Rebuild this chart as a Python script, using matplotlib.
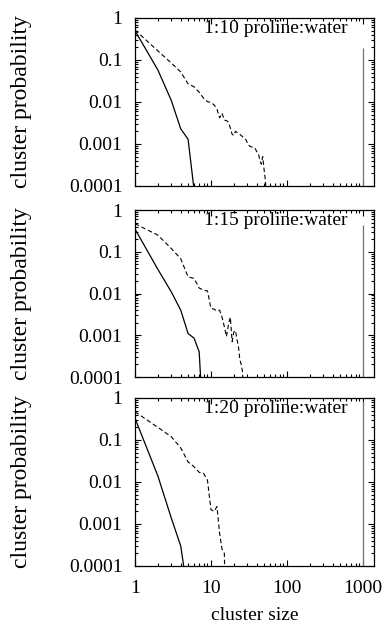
import numpy as np
import matplotlib
matplotlib.use("Agg")
import matplotlib.pyplot as plt

plt.rcParams['font.family'] = ['Liberation Serif', 'DejaVu Serif']
plt.rcParams['font.size'] = 14

# cluster size / probability
solid_10_x = [1, 2, 3, 4, 5, 6, 7]
solid_10_y = [0.5, 0.058, 0.011, 0.0023, 0.0013, 8e-5, 1e-7]
dash_10_x = [1, 2, 3, 4, 5, 6, 7, 8, 9, 10, 11, 12, 13, 14, 15, 16, 17, 18, 19, 20,
             21, 22, 24, 25, 27, 29, 31, 33, 36, 38, 40, 42, 44, 46, 48, 50, 52, 54]
dash_10_y = [0.52, 0.165, 0.085, 0.052, 0.027, 0.023, 0.017, 0.0123, 0.0102, 0.0098,
             0.0085, 0.0068, 0.0042, 0.0054, 0.0037, 0.0036, 0.0033, 0.0024, 0.0017, 0.0016,
             0.002, 0.0019, 0.0017, 0.0016, 0.0014, 0.00125, 0.00095, 0.00087, 0.00082, 0.0008,
             0.00066, 0.0006, 0.00042, 0.00033, 0.0005, 0.00025, 0.00014, 0.00005]

solid_15_x = [1, 2, 3, 4, 5, 6, 7, 8]
solid_15_y = [0.35, 0.038, 0.011, 0.004, 0.0011, 0.00085, 0.0004, 5e-6]
dash_15_x = [1, 2, 3, 4, 5, 6, 7, 8, 9, 10, 11, 12, 13, 14, 15, 16, 17, 18, 19, 20,
             21, 22, 23, 24, 25, 26, 27]
dash_15_y = [0.47, 0.25, 0.12, 0.068, 0.025, 0.023, 0.0135, 0.012, 0.0115, 0.0044,
             0.0042, 0.0038, 0.004, 0.0027, 0.0016, 0.00093, 0.0018, 0.0027, 0.0007, 0.0012,
             0.0013, 0.0008, 0.00054, 0.00026, 0.0002, 0.000135, 0.00003]

solid_20_x = [1, 2, 3, 4, 5]
solid_20_y = [0.33, 0.014, 0.0014, 0.0003, 2e-5]
dash_20_x = [1, 2, 3, 4, 5, 6, 7, 8, 9, 10, 11, 12, 13, 14, 15, 16]
dash_20_y = [0.47, 0.2, 0.12, 0.065, 0.03, 0.023, 0.017, 0.016, 0.011, 0.0022,
             0.002, 0.0026, 0.0006, 0.00025, 0.0002, 1e-6]

# spike at the largest cluster size
spike_x = 1000
spike_y = [0.19, 0.44, 0.85]

titles = ["1:10 proline:water", "1:15 proline:water", "1:20 proline:water"]
ytick_vals = [1e-4, 1e-3, 1e-2, 1e-1, 1]
ytick_labels = ["0.0001", "0.001", "0.01", "0.1", "1"]
xtick_vals = [1, 10, 100, 1000]
xtick_labels = ["1", "10", "100", "1000"]

panels = [(solid_10_x, solid_10_y, dash_10_x, dash_10_y),
          (solid_15_x, solid_15_y, dash_15_x, dash_15_y),
          (solid_20_x, solid_20_y, dash_20_x, dash_20_y)]

fig = plt.figure(figsize=(3.85, 6.25), dpi=100)
# axes boxes in figure fraction: left, bottom, width, height
boxes = [[0.3506, 0.7024, 0.6208, 0.2688],
         [0.3506, 0.3968, 0.6208, 0.2672],
         [0.3506, 0.0944, 0.6208, 0.2688]]

for i, (sx, sy, dx, dy) in enumerate(panels):
    ax = fig.add_axes(boxes[i])
    ax.set_xscale('log')
    ax.set_yscale('log')
    ax.plot(sx, sy, color='black', lw=0.9)
    ax.plot(dx, dy, color='black', lw=0.8, linestyle=(0, (4, 2.5)))
    ax.vlines(spike_x, 1e-4, spike_y[i], color='0.45', lw=0.9)
    ax.set_xlim(1, 1400)
    ax.set_ylim(1e-4, 1)
    ax.set_yticks(ytick_vals)
    ax.set_yticklabels(ytick_labels)
    ax.set_xticks(xtick_vals)
    if i == 2:
        ax.set_xticklabels(xtick_labels)
        ax.set_xlabel("cluster size")
        ax.xaxis.set_label_coords(0.5, -0.245)
    else:
        ax.set_xticklabels([])
    ax.tick_params(which='both', direction='in', top=True, right=True, width=0.8)
    ax.tick_params(which='major', length=4.5)
    ax.tick_params(which='minor', length=2.2)
    ax.tick_params(axis='y', which='major', pad=9)
    ax.tick_params(axis='x', which='major', pad=10)
    for sp in ax.spines.values():
        sp.set_linewidth(0.9)
    ax.set_ylabel("cluster probability", fontsize=17)
    ax.yaxis.set_label_coords(-0.43, 0.5)
    ax.text(0.891, 0.909, titles[i], transform=ax.transAxes, ha='right', va='baseline')

fig.savefig("out.png", dpi=100)
